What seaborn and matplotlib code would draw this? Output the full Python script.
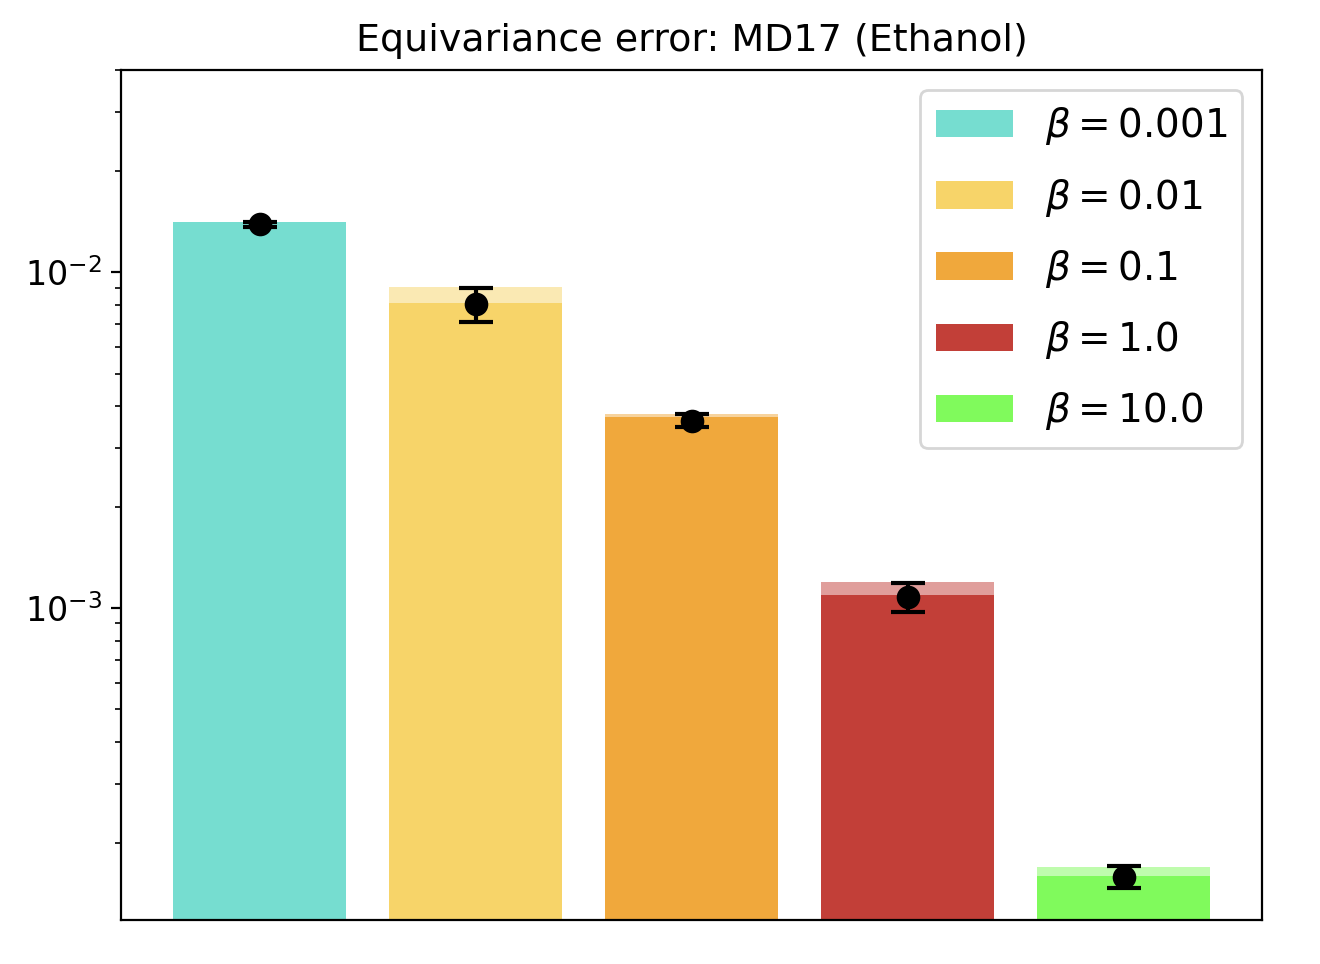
import numpy as np
import pandas as pd
import seaborn as sns
import matplotlib.pyplot as plt
from matplotlib.patches import Patch

betas = ["0.001", "0.01", "0.1", "1.0", "10.0"]
colors = ["#76DDD0", "#F7D469", "#F0A83C", "#C23F38", "#80FA5C"]
# upper (light) bar = mean + std, dark bar, point = mean, std
upper = [0.01412, 0.00902, 0.00378, 0.001195, 0.0001695]
lower = [0.01409, 0.00809, 0.00370, 0.001093, 0.0001592]
means = [0.01390, 0.00805, 0.00362, 0.001082, 0.0001582]
stds = [0.00025, 0.00095, 0.00016, 0.000110, 0.0000120]

df = pd.DataFrame({"beta": betas, "upper": upper, "lower": lower,
                   "mean": means, "std": stds})

fig, ax = plt.subplots(figsize=(6.6, 4.82), dpi=200)
ax.set_yscale("log")

palette = dict(zip(betas, colors))
sns.barplot(data=df, x="beta", y="upper", hue="beta", palette=palette,
            alpha=0.5, saturation=1, legend=False, ax=ax, width=0.8)
sns.barplot(data=df, x="beta", y="lower", hue="beta", palette=palette,
            saturation=1, legend=False, ax=ax, width=0.8)

ax.errorbar(np.arange(len(betas)), df["mean"], yerr=df["std"], fmt="o",
            color="black", markersize=7.5, capsize=6, elinewidth=1.5,
            capthick=1.5)

ax.set_xlim(-0.64, 4.64)
ax.set_ylim(1.18e-4, 0.04)
ax.set_xticks([])
ax.set_xlabel("")
ax.set_ylabel("")
ax.tick_params(axis="y", labelsize=12)
ax.set_title("Equivariance error: MD17 (Ethanol)", fontsize=13.7, pad=7)

handles = [Patch(facecolor=c, label=rf"$\beta = {b}$") for b, c in zip(betas, colors)]
ax.legend(handles=handles, loc="upper right", fontsize=14, labelspacing=0.75)

fig.subplots_adjust(left=0.092, right=0.956, top=0.927, bottom=0.046)
fig.savefig("out.png", dpi=200)
